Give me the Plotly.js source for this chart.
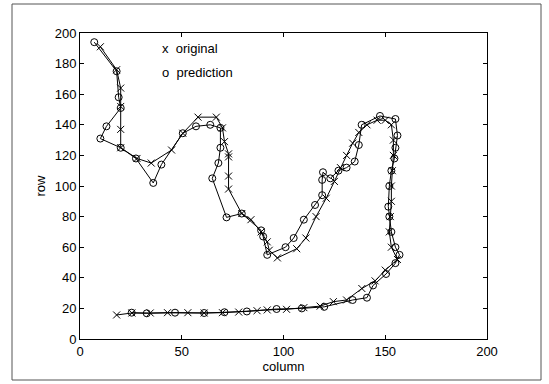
<!DOCTYPE html>
<html>
<head>
<meta charset="utf-8">
<script src="https://cdn.plot.ly/plotly-3.0.1.min.js"></script>
<style>html,body{margin:0;padding:0;background:#fff}#chart{width:549px;height:384px}</style>
</head>
<body>
<div id="chart"></div>
<script>
// original (x markers)
var origCol = [10, 18, 20, 20, 20, 20, 28, 35, 45, 50.5, 58, 67, 70, 71, 73, 73, 73, 73, 79.5, 84, 89, 92, 93, 97, 106.5, 111, 116, 121, 125, 128, 131, 134, 137, 141, 146, 150, 153, 154, 154, 153.5, 153, 153, 152.5, 152, 153, 156, 150, 145, 138.5, 131, 124.5, 118, 110, 101.5, 92, 87, 78, 70, 61, 53, 43, 34.5, 25.5, 18];
var origRow = [191, 176, 164, 152, 137, 125, 118, 115, 123.5, 134.5, 145, 145, 138, 129, 121, 119, 106.5, 98, 82, 78, 70, 63.5, 58, 53, 59, 66, 80, 92, 103, 112, 120, 128, 135, 140, 143, 143, 140, 130, 120, 110, 100, 90, 80, 70, 60, 52, 45, 38, 33, 25.5, 24.4, 21.5, 20.5, 19.4, 19, 18.5, 17.6, 17.2, 17, 17.2, 17.2, 17, 17, 15.7];
// prediction (o markers)
var predCol = [7, 18, 19, 20, 13, 10, 20, 27.5, 36, 40, 50.5, 57, 64, 69, 69, 68, 65, 72, 79.5, 89, 90, 92, 101, 105, 110, 115.5, 119, 119, 119.4, 123, 127, 131, 135, 137, 138.4, 147.4, 155, 156, 155, 154.5, 153, 152, 151.5, 152, 153, 155, 157, 155, 150.4, 144, 141, 134, 120, 109, 96.6, 82, 71, 61, 46.7, 32.8, 25.4];
var predRow = [194, 175, 158, 151, 139, 131, 125, 118, 102, 114, 134.5, 139, 140, 138, 125, 115, 105, 79.5, 82, 71, 67, 55, 60, 66, 78, 87.6, 94, 104, 109, 105, 110, 112, 116, 126.8, 140, 145.8, 143.8, 133, 125, 118, 110, 100, 86.5, 80, 70, 60, 55, 49.6, 42.5, 35, 27, 25.5, 21, 20, 19.6, 18, 17.5, 17, 17.2, 16.8, 17.2];
var xTicks = [0, 50, 100, 150, 200];
var yTicks = [0, 20, 40, 60, 80, 100, 120, 140, 160, 180, 200];

var font = {family: 'Liberation Sans, Arial, sans-serif', size: 13, color: '#000'};

var traces = [
  {x: origCol, y: origRow, type: 'scatter', mode: 'lines+markers', name: 'original',
   line: {color: '#000', width: 1},
   marker: {symbol: 'x-thin-open', size: 7, color: '#000', line: {color: '#000', width: 1}}},
  {x: predCol, y: predRow, type: 'scatter', mode: 'lines+markers', name: 'prediction',
   line: {color: '#000', width: 1},
   marker: {symbol: 'circle-open', size: 7, color: '#000', line: {color: '#000', width: 1}}}
];

var axisCommon = {showgrid: false, zeroline: false, showline: true, linecolor: '#000', linewidth: 1,
  mirror: 'ticks', ticks: 'inside', ticklen: 4, tickcolor: '#000', tickfont: font};

var layout = {
  width: 549, height: 384,
  margin: {l: 80, r: 62, t: 33, b: 45},
  paper_bgcolor: '#fff', plot_bgcolor: '#fff',
  showlegend: false,
  font: font,
  xaxis: Object.assign({}, axisCommon, {range: [0, 200], tickvals: xTicks, ticktext: xTicks.map(String),
    title: {text: 'column', font: font, standoff: 2}}),
  yaxis: Object.assign({}, axisCommon, {range: [0, 200], tickvals: yTicks, ticktext: yTicks.map(String),
    title: {text: 'row', font: font, standoff: 6}}),
  annotations: [
    {xref: 'paper', yref: 'paper', x: (160 - 80) / 407, y: (339 - 48) / 306, xanchor: 'left', yanchor: 'middle',
     text: 'x&nbsp;&nbsp;original', showarrow: false, font: font},
    {xref: 'paper', yref: 'paper', x: (160 - 80) / 407, y: (339 - 72) / 306, xanchor: 'left', yanchor: 'middle',
     text: 'o&nbsp;&nbsp;prediction', showarrow: false, font: font}
  ],
  shapes: [
    {type: 'rect', xref: 'paper', yref: 'paper', x0: (12 - 80) / 407, x1: (541 - 80) / 407,
     y0: (339 - 380) / 306, y1: (339 - 4) / 306, line: {color: '#555', width: 1}}
  ]
};

Plotly.newPlot('chart', traces, layout, {displayModeBar: false, staticPlot: true});
</script>
</body>
</html>
